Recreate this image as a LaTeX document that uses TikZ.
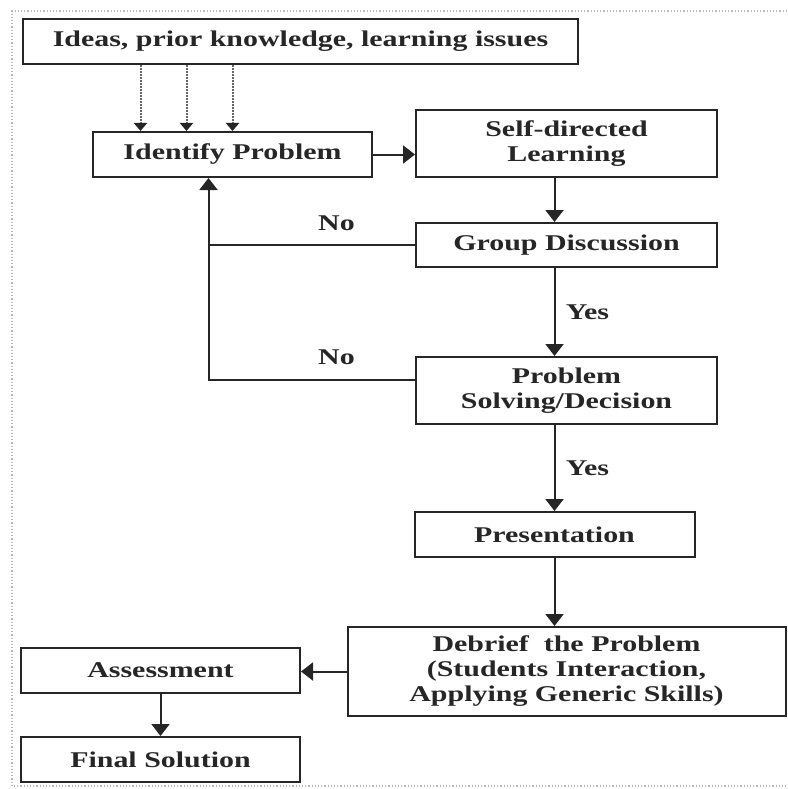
\documentclass[tikz,border=0pt]{standalone}
\usepackage{fontspec}
\setmainfont{Liberation Serif}[FakeStretch=1.33]
\usetikzlibrary{arrows.meta}

\tikzset{
	box/.style={draw, line width=2pt, inner sep=0pt, align=center,
		font=\fontsize{22.5}{25}\selectfont\bfseries},
	tag/.style={font=\fontsize{22.5}{25}\selectfont\bfseries},
	link/.style={line width=2pt},
	flow/.style={line width=2pt, -{Triangle[length=12pt,width=18pt]}},
	hint/.style={line width=2pt, black!60, densely dotted, -{Triangle[length=8pt,width=13pt,color=black!85]}},
}

\begin{document}
\begin{tikzpicture}[x=1pt, y=-1pt, color=black!85]
	\useasboundingbox (0,0) rectangle (787,789);
	\draw[gray!55, dotted, line width=1.2pt] (787,11) -- (12,11) -- (12,786) -- (787,786);
	% boxes
	\node[box, minimum width=555, minimum height=45] (ideas) at (300.5,41.5) {Ideas, prior knowledge, learning issues};
	\node[box, minimum width=279, minimum height=45] (ident) at (232.5,154.5) {Identify Problem};
	\node[box, minimum width=301, minimum height=67] (self) at (566.5,143.5) {Self-directed\\Learning};
	\node[box, minimum width=301, minimum height=44] (group) at (566.5,245) {Group Discussion};
	\node[box, minimum width=301, minimum height=67] (ps) at (566.5,390.5) {Problem\\Solving/Decision};
	\node[box, minimum width=280, minimum height=45] (pres) at (554.5,534.5) {Presentation};
	\node[box, minimum width=438, minimum height=89] (debrief) at (566.5,671.5) {Debrief\ \ the Problem\\(Students Interaction,\\Applying Generic Skills)};
	\node[box, minimum width=279, minimum height=45] (assess) at (160.5,670.5) {Assessment};
	\node[box, minimum width=279, minimum height=45] (final) at (160.5,759.5) {Final Solution};
	% inputs
	\foreach \dx in {-92,-46,0} {
		\path (ident.north) ++(\dx,0) coordinate (tip);
		\draw[hint] (tip |- ideas.south) -- (tip);
	}
	% main flow
	\draw[flow] (ident.east) -- (ident.east -| self.west);
	\draw[flow] (self.south -| pres.north) -- (group.north -| pres.north);
	\draw[flow] (group.south -| pres.north) -- node[tag, right=7pt] {Yes} (ps.north -| pres.north);
	\draw[flow] (ps.south -| pres.north) -- node[tag, right=7pt] {Yes} (pres.north);
	\draw[flow] (pres.south) -- (pres.south |- debrief.north);
	\draw[flow] (debrief.west) -- (debrief.west -| assess.east);
	\draw[flow] (assess.south) -- (final.north);
	% loops back
	\coordinate (back) at ([xshift=-24]ident.south);
	\coordinate (psout) at ([yshift=11]ps.west);
	\draw[flow] (group.west) -- node[tag, above=10pt, pos=0.38] {No} (group.west -| back) -- (back);
	\draw[link] (psout) -- node[tag, above=10pt, pos=0.38] {No} (psout -| back) -- (group.west -| back);
\end{tikzpicture}
\end{document}
